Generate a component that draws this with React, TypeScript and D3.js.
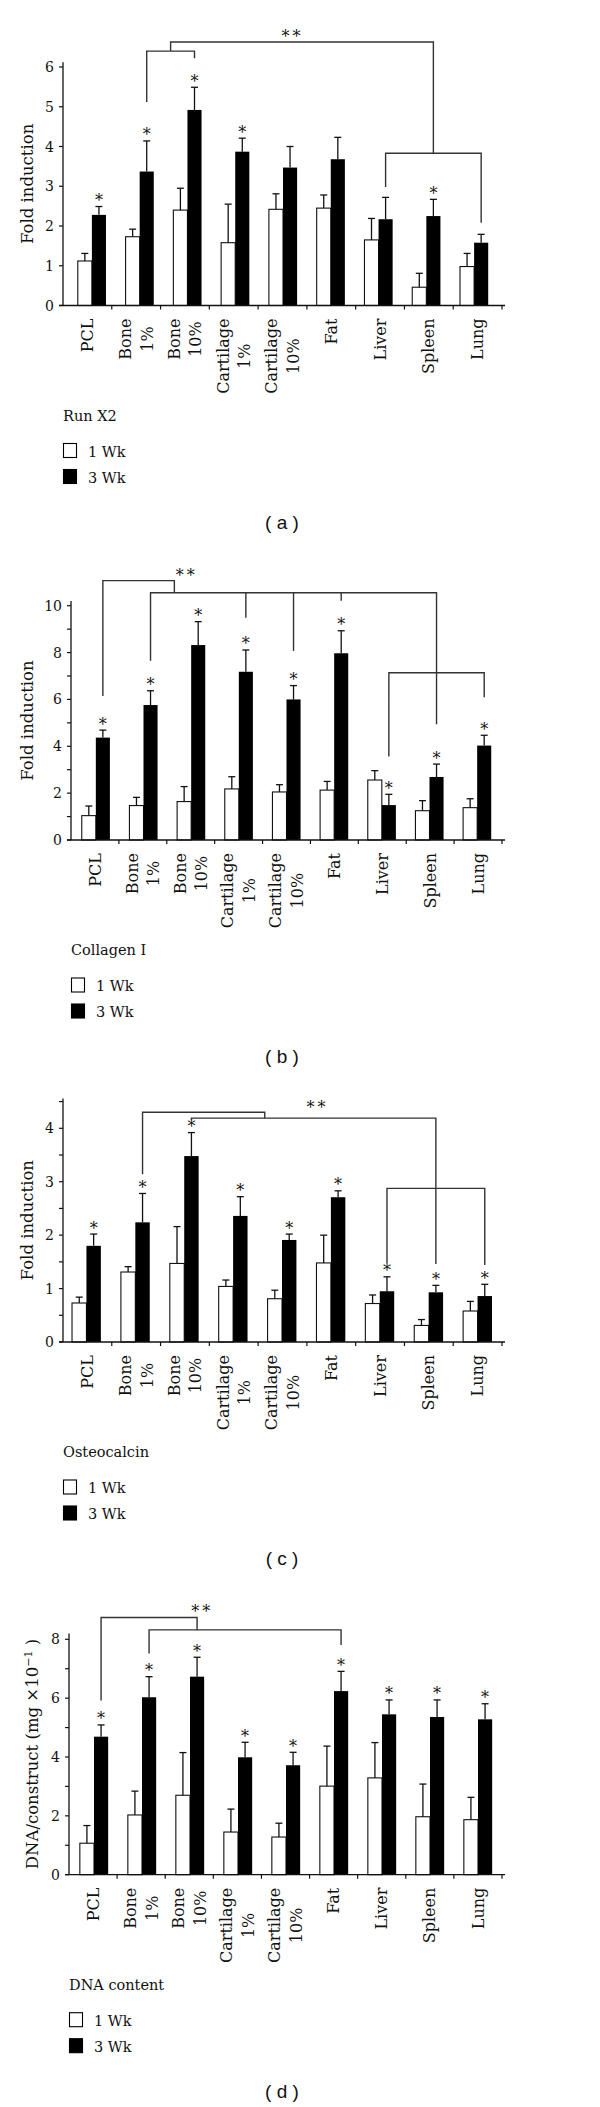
import { useEffect, useRef } from 'react'
import * as d3 from 'd3'

// Categories (two-line labels split on \n)
const categories = ['PCL', 'Bone\n1%', 'Bone\n10%', 'Cartilage\n1%', 'Cartilage\n10%', 'Fat', 'Liver', 'Spleen', 'Lung']
const seriesNames = ['1 Wk', '3 Wk']

// (a) Run X2
const runx2Wk1 = [1.12, 1.73, 2.4, 1.58, 2.42, 2.45, 1.65, 0.46, 0.98]
const runx2Wk1Sd = [0.19, 0.19, 0.55, 0.97, 0.39, 0.33, 0.54, 0.35, 0.33]
const runx2Wk3 = [2.28, 3.37, 4.92, 3.87, 3.47, 3.68, 2.17, 2.25, 1.58]
const runx2Wk3Sd = [0.21, 0.77, 0.57, 0.34, 0.53, 0.55, 0.55, 0.42, 0.21]
const runx2Stars = [1, 1, 1, 1, 0, 0, 0, 1, 0]
const runx2Brackets = [
  [[1, 5.12], [1, 6.4], [2, 6.4], [2, 6.22]],
  [[1.5, 6.4], [1.5, 6.63], [7, 6.63], [7, 3.83]],
  [[6, 2.98], [6, 3.83], [8, 3.83], [8, 2.08]],
]
const runx2DoubleStar = [4.05, 6.86]

// (b) Collagen I
const colWk1 = [1.04, 1.47, 1.64, 2.18, 2.05, 2.13, 2.56, 1.25, 1.38]
const colWk1Sd = [0.41, 0.35, 0.64, 0.52, 0.31, 0.37, 0.4, 0.43, 0.38]
const colWk3 = [4.37, 5.76, 8.32, 7.18, 6.0, 7.97, 1.49, 2.69, 4.03]
const colWk3Sd = [0.32, 0.61, 1.0, 0.93, 0.59, 0.96, 0.46, 0.55, 0.44]
const colStars = [1, 1, 1, 1, 1, 1, 1, 1, 1]
const colBrackets = [
  [[0, 6.15], [0, 11.07], [1.5, 11.07], [1.5, 10.55]],
  [[1, 7.65], [1, 10.55], [7, 10.55], [7, 4.94]],
  [[3, 10.55], [3, 9.49]],
  [[4, 10.55], [4, 8.07]],
  [[5, 10.55], [5, 10.21]],
  [[6, 3.56], [6, 7.14], [8, 7.14], [8, 6.09]],
]
const colDoubleStar = [1.76, 11.45]

// (c) Osteocalcin
const ostWk1 = [0.73, 1.31, 1.47, 1.04, 0.81, 1.48, 0.72, 0.31, 0.58]
const ostWk1Sd = [0.11, 0.1, 0.69, 0.12, 0.16, 0.52, 0.16, 0.11, 0.18]
const ostWk3 = [1.8, 2.24, 3.48, 2.36, 1.91, 2.71, 0.95, 0.93, 0.86]
const ostWk3Sd = [0.22, 0.54, 0.44, 0.36, 0.11, 0.12, 0.27, 0.13, 0.22]
const ostStars = [1, 1, 1, 1, 1, 1, 1, 1, 1]
const ostBrackets = [
  [[1, 3.14], [1, 4.3], [3.5, 4.3], [3.5, 4.19]],
  [[2, 4.15], [2, 4.19], [7, 4.19], [7, 1.46]],
  [[6, 1.48], [6, 2.875], [8, 2.875], [8, 1.44]],
]
const ostDoubleStar = [4.58, 4.46]

// (d) DNA content
const dnaWk1 = [1.07, 2.03, 2.7, 1.45, 1.28, 3.01, 3.29, 1.97, 1.87]
const dnaWk1Sd = [0.6, 0.81, 1.45, 0.78, 0.47, 1.36, 1.2, 1.11, 0.76]
const dnaWk3 = [4.69, 6.03, 6.73, 3.99, 3.72, 6.24, 5.45, 5.36, 5.28]
const dnaWk3Sd = [0.4, 0.7, 0.66, 0.51, 0.44, 0.67, 0.49, 0.58, 0.53]
const dnaStars = [1, 1, 1, 1, 1, 1, 1, 1, 1]
const dnaBrackets = [
  [[0, 5.92], [0, 8.74], [2, 8.74], [2, 8.32]],
  [[1, 7.52], [1, 8.32], [5, 8.32], [5, 7.81]],
]
const dnaDoubleStar = [2.11, 9.05]

const SERIF = '"DejaVu Serif", serif'
const SANS = '"Liberation Sans", Arial, sans-serif'
const INK = '#111'
const LINE = '#333'

const panels = [
  { title: 'Run X2', caption: '( a )', wk1: runx2Wk1, wk1Sd: runx2Wk1Sd, wk3: runx2Wk3, wk3Sd: runx2Wk3Sd, stars: runx2Stars, brackets: runx2Brackets, dbl: runx2DoubleStar,
    yLabel: 'Fold induction', tickMax: 6, axisTop: 6.12, major: 1, minor: 0, axisX: 63, barRange: [68, 498], y0: 305.5, yTick: 67, labelX: 27 },
  { title: 'Collagen I', caption: '( b )', wk1: colWk1, wk1Sd: colWk1Sd, wk3: colWk3, wk3Sd: colWk3Sd, stars: colStars, brackets: colBrackets, dbl: colDoubleStar,
    yLabel: 'Fold induction', tickMax: 10, axisTop: 10.2, major: 2, minor: 1, axisX: 71, barRange: [72, 501], y0: 840, yTick: 605.7, labelX: 27 },
  { title: 'Osteocalcin', caption: '( c )', wk1: ostWk1, wk1Sd: ostWk1Sd, wk3: ostWk3, wk3Sd: ostWk3Sd, stars: ostStars, brackets: ostBrackets, dbl: ostDoubleStar,
    yLabel: 'Fold induction', tickMax: 4, axisTop: 4.56, major: 1, minor: 0.5, axisX: 63, barRange: [62, 502], y0: 1342, yTick: 1128.3, labelX: 27 },
  { title: 'DNA content', caption: '( d )', wk1: dnaWk1, wk1Sd: dnaWk1Sd, wk3: dnaWk3, wk3Sd: dnaWk3Sd, stars: dnaStars, brackets: dnaBrackets, dbl: dnaDoubleStar,
    yLabel: 'DNA', tickMax: 8, axisTop: 8.2, major: 2, minor: 1, axisX: 69, barRange: [70, 502], y0: 1874.7, yTick: 1639.3, labelX: 32 },
]

function drawPanel(svg: any, p: any) {
  const g = svg.append('g')
  const y = d3.scaleLinear().domain([0, p.tickMax]).range([p.y0, p.yTick])
  const xBar = d3.scaleBand().domain(categories).range(p.barRange).paddingInner(0.41).paddingOuter(0.205)
  const xTick = d3.scaleBand().domain(categories).range([p.axisX, 502])
  const bw = xBar.bandwidth() / 2
  const blackX = (c: number) => (xBar(categories[0]) as number) + c * xBar.step() + 1.5 * bw

  // bars
  categories.forEach((cat, i) => {
    const x0 = xBar(cat) as number
    g.append('rect').attr('x', x0).attr('y', y(p.wk1[i])).attr('width', bw).attr('height', p.y0 - y(p.wk1[i]))
      .attr('fill', '#fff').attr('stroke', INK).attr('stroke-width', 1.1)
    g.append('rect').attr('x', x0 + bw).attr('y', y(p.wk3[i])).attr('width', bw).attr('height', p.y0 - y(p.wk3[i]))
      .attr('fill', '#000')
    const errs = [[x0 + bw / 2, p.wk1[i], p.wk1Sd[i]], [x0 + 1.5 * bw, p.wk3[i], p.wk3Sd[i]]]
    errs.forEach(([cx, v, sd]) => {
      g.append('line').attr('x1', cx).attr('x2', cx).attr('y1', y(v)).attr('y2', y(v + sd)).attr('stroke', INK).attr('stroke-width', 1.3)
      g.append('line').attr('x1', cx - 3.5).attr('x2', cx + 3.5).attr('y1', y(v + sd)).attr('y2', y(v + sd)).attr('stroke', INK).attr('stroke-width', 1.3)
    })
    if (p.stars[i]) {
      g.append('text').attr('x', x0 + 1.5 * bw).attr('y', y(p.wk3[i] + p.wk3Sd[i]) - 0.5).attr('text-anchor', 'middle')
        .attr('font-family', SERIF).attr('font-size', 16).attr('fill', INK).text('*')
    }
  })

  // brackets
  const line = d3.line<number[]>().x(d => blackX(d[0])).y(d => y(d[1]))
  p.brackets.forEach((b: number[][]) => {
    g.append('path').attr('d', line(b)).attr('fill', 'none').attr('stroke', LINE).attr('stroke-width', 1.4)
  })
  g.append('text').attr('x', blackX(p.dbl[0])).attr('y', y(p.dbl[1])).attr('dy', '0.55em').attr('text-anchor', 'middle')
    .attr('font-family', SERIF).attr('font-size', 16).attr('letter-spacing', 3).attr('fill', INK).text('**')

  // axes
  g.append('line').attr('x1', p.axisX).attr('x2', p.axisX).attr('y1', p.y0).attr('y2', y(p.axisTop)).attr('stroke', INK).attr('stroke-width', 1.3)
  g.append('line').attr('x1', p.axisX - 4).attr('x2', 505).attr('y1', p.y0).attr('y2', p.y0).attr('stroke', INK).attr('stroke-width', 1.3)
  const majors = d3.range(0, p.tickMax + 1e-6, p.major)
  majors.forEach((v: number) => {
    g.append('line').attr('x1', p.axisX - 4).attr('x2', p.axisX).attr('y1', y(v)).attr('y2', y(v)).attr('stroke', INK).attr('stroke-width', 1.2)
    g.append('text').attr('x', p.axisX - 9).attr('y', y(v)).attr('dy', '0.36em').attr('text-anchor', 'end')
      .attr('font-family', SERIF).attr('font-size', 14).attr('fill', INK).text(v)
  })
  if (p.minor) {
    d3.range(p.minor, p.axisTop, p.major).forEach((v: number) => {
      g.append('line').attr('x1', p.axisX - 4).attr('x2', p.axisX).attr('y1', y(v)).attr('y2', y(v)).attr('stroke', INK).attr('stroke-width', 1.2)
    })
  }
  categories.forEach((cat) => {
    const tx = (xTick(cat) as number) + xTick.bandwidth()
    g.append('line').attr('x1', tx).attr('x2', tx).attr('y1', p.y0).attr('y2', p.y0 + 4).attr('stroke', INK).attr('stroke-width', 1.2)
  })

  // category labels (rotated)
  categories.forEach((cat) => {
    const lines = cat.split('\n')
    const cx = (xTick(cat) as number) + xTick.bandwidth() / 2
    const offs = lines.length === 1 ? [0] : [-10.75, 10.75]
    let firstLen = 0
    lines.forEach((ln, j) => {
      const t = g.append('text').attr('transform', `translate(${cx + offs[j]},${p.y0 + 13}) rotate(-90)`)
        .attr('dy', '0.35em').attr('font-family', SERIF).attr('font-size', 16).attr('fill', INK).text(ln)
      if (j === 0) {
        t.attr('text-anchor', 'end')
        firstLen = (t.node() as SVGTextElement).getComputedTextLength()
      } else {
        t.attr('text-anchor', 'middle').attr('x', -firstLen / 2)
      }
    })
  })

  // y label
  const yc = (p.y0 + y(p.axisTop)) / 2
  const yl = g.append('text').attr('transform', `translate(${p.labelX},${yc}) rotate(-90)`).attr('dy', '0.35em')
    .attr('text-anchor', 'middle').attr('font-family', SERIF).attr('font-size', 16.5).attr('fill', INK)
  if (p.yLabel === 'DNA') {
    yl.append('tspan').text('DNA/construct (mg ×10')
    yl.append('tspan').attr('dy', -6).attr('font-size', 11).text('−1')
    yl.append('tspan').attr('dy', 6).text(' )')
  } else {
    yl.text(p.yLabel)
  }

  // legend
  g.append('text').attr('x', p.axisX).attr('y', p.y0 + 115).attr('font-family', SERIF).attr('font-size', 14.5).attr('fill', INK).text(p.title)
  seriesNames.forEach((name, i) => {
    const ty = p.y0 + 138 + i * 26
    g.append('rect').attr('x', p.axisX + 0.5).attr('y', ty).attr('width', 13).attr('height', 14)
      .attr('fill', i === 0 ? '#fff' : '#000').attr('stroke', '#000').attr('stroke-width', 1.1)
    g.append('text').attr('x', p.axisX + 25).attr('y', ty + 13).attr('font-family', SERIF).attr('font-size', 14.5).attr('fill', INK).text(name)
  })

  // caption
  g.append('text').attr('x', 282).attr('y', p.y0 + 223).attr('text-anchor', 'middle').attr('font-family', SANS)
    .attr('font-size', 19).attr('fill', INK).text(p.caption)
}

export default function App() {
  const svgRef = useRef<SVGSVGElement | null>(null)

  useEffect(() => {
    const svg = d3.select(svgRef.current)
    svg.selectAll('*').remove()
    svg.append('rect').attr('width', 600).attr('height', 2107).attr('fill', '#fff')
    panels.forEach(p => drawPanel(svg, p))
  }, [])

  return (
    <svg ref={svgRef} width={600} height={2107}
      style={{ position: 'absolute', left: 0, top: 0, display: 'block', background: '#fff' }} />
  )
}
